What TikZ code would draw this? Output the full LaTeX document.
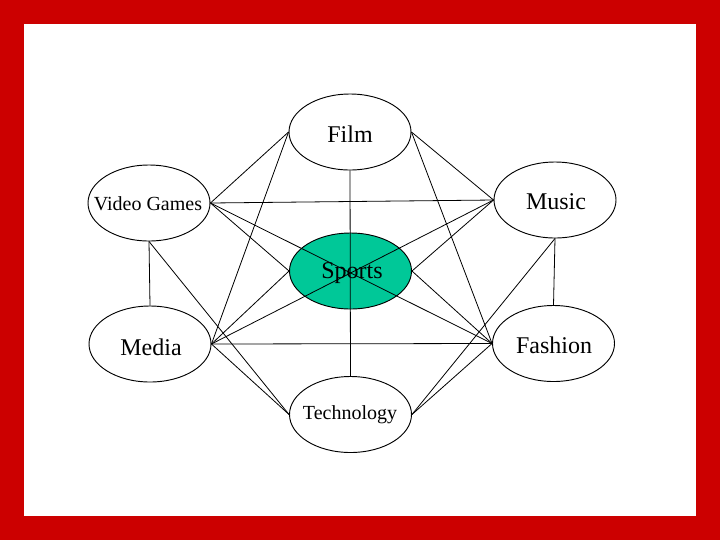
\documentclass[tikz,border=0pt]{standalone}
\usepackage{fontspec}
\setmainfont{Liberation Serif}
\usetikzlibrary{shapes.geometric}
\definecolor{frame}{RGB}{204,0,0}
\definecolor{sportsfill}{RGB}{0,200,152}
\tikzset{
  oval/.style={ellipse, draw=black, line width=0.7pt, fill=white, inner sep=0pt,
    minimum width=91.5pt, minimum height=57pt},
  hot/.style={oval, fill=sportsfill},
  big/.style={inner sep=0pt, font=\fontsize{18}{20}\selectfont},
  small/.style={inner sep=0pt, font=\fontsize{15}{17}\selectfont},
  link/.style={draw=black, line width=0.6pt}
}
\begin{document}
\begin{tikzpicture}[x=0.75pt,y=-0.75pt]
\fill[frame] (0,0) rectangle (720,540);
\fill[white] (24,24) rectangle (696,516);
\useasboundingbox (0,0) rectangle (720,540);

\node[oval] (film) at (350,132) {};
\node[oval] (vg) at (149,203) {};
\node[oval] (music) at (555,200) {};
\node[hot] (sports) at (350.5,271) {};
\node[oval] (media) at (150,344) {};
\node[oval] (fashion) at (553.5,343.5) {};
\node[oval] (tech) at (350.5,414.5) {};

\draw[link] (film.west) -- (vg.east);
\draw[link] (film.west) -- (media.east);
\draw[link] (film.south) -- (tech.north);
\draw[link] (film.east) -- (music.west);
\draw[link] (film.east) -- (fashion.west);
\draw[link] (vg.east) -- (music.west);
\draw[link] (vg.east) -- (fashion.west);
\draw[link] (vg.east) -- (sports.west);
\draw[link] (vg.south) -- (media.north);
\draw[link] (vg.south) -- (tech.west);
\draw[link] (music.west) -- (sports.east);
\draw[link] (music.west) -- (media.east);
\draw[link] (music.south) -- (fashion.north);
\draw[link] (music.south) -- (tech.east);
\draw[link] (media.east) -- (sports.west);
\draw[link] (media.east) -- (fashion.west);
\draw[link] (media.east) -- (tech.west);
\draw[link] (fashion.west) -- (sports.east);
\draw[link] (fashion.west) -- (tech.east);

\node[big] (filmt) at (350,134) {Film};
\node[small] (vgt) at (148,204) {Video Games};
\node[big] (musict) at (556,202) {Music};
\node[big] (sportst) at (352,273) {Sports};
\node[big] (mediat) at (151,347) {Media};
\node[big] (fashiont) at (554,345) {Fashion};
\node[small] (techt) at (350,415) {Technology};
\end{tikzpicture}
\end{document}
